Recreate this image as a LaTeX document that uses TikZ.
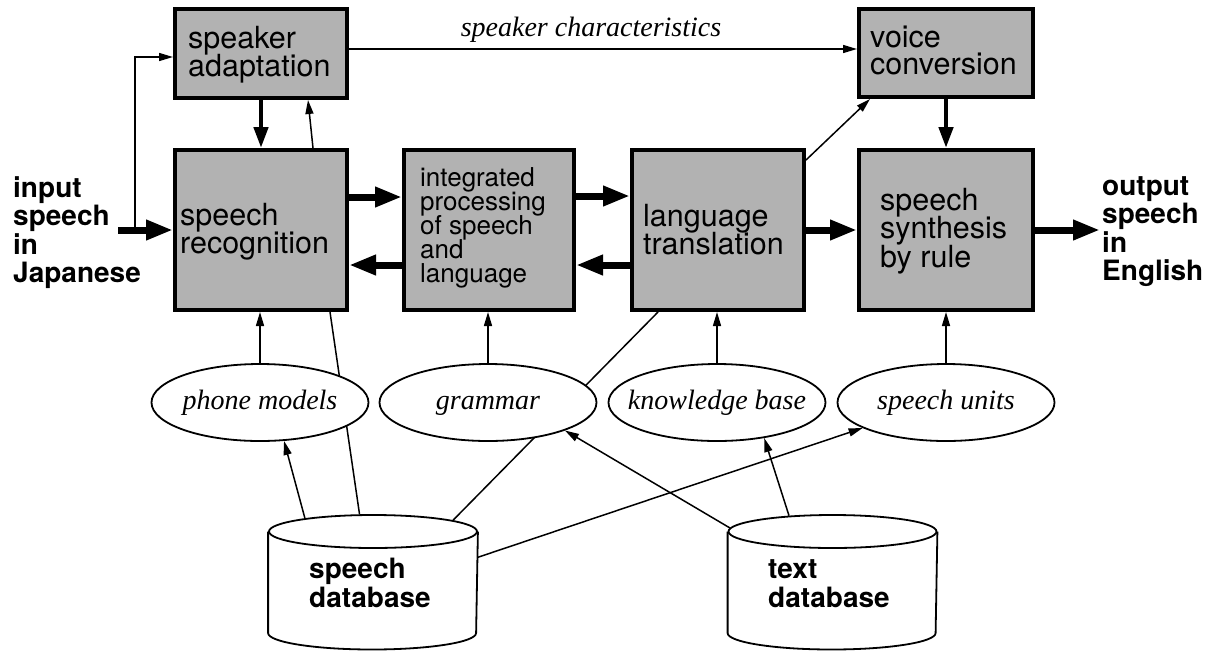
\documentclass[tikz,border=0pt]{standalone}
\usepackage{fontspec}
\setmainfont{TeX Gyre Heros}
\newfontfamily\tms{Liberation Serif}
\usetikzlibrary{arrows.meta,shapes.geometric,calc}
\newcommand{\lns}[1]{\vtop{\lineskiplimit=-100pt\lineskip=0pt\halign{##\hfil\cr#1\crcr}}}
\tikzset{
  box/.style={draw, line width=4pt, fill=black!30, inner sep=0pt},
  bt/.style={anchor=base west, inner sep=0pt, font=\fontsize{30.5}{28.5}\selectfont},
  lab/.style={anchor=base west, inner sep=0pt, font=\bfseries\fontsize{28}{28.5}\selectfont},
  oval/.style={ellipse, draw, line width=1.8pt, fill=white, minimum width=217pt, minimum height=77pt, inner sep=0pt},
  ovtext/.style={inner sep=0pt, font=\tms\itshape\fontsize{28}{30}\selectfont, text height=19pt, text depth=6pt},
  cyltop/.style={ellipse, draw, line width=1.8pt, minimum width=208pt, minimum height=33pt, inner sep=0pt},
  cylline/.style={line width=1.8pt},
  barrow/.style={-{Triangle[length=27pt,width=19pt]}, line width=7pt},
  marrow/.style={-{Triangle[length=21pt,width=14pt]}, line width=4.5pt},
  tarrow/.style={-{Triangle[length=14pt,width=8pt]}, line width=1.5pt},
  pline/.style={line width=1.5pt},
}
\begin{document}
\begin{tikzpicture}[x=1pt,y=-1pt]
\useasboundingbox (0,0) rectangle (1214,651);

% boxes
\node[box, minimum width=172pt, minimum height=89pt] (sa) at (261,53.5) {};
\node[box, minimum width=172pt, minimum height=160pt] (sr) at (261,230) {};
\node[box, minimum width=170pt, minimum height=160pt] (int) at (489,230) {};
\node[box, minimum width=172pt, minimum height=160pt] (lt) at (718,230) {};
\node[box, minimum width=174pt, minimum height=88pt] (vc) at (946,53) {};
\node[box, minimum width=174pt, minimum height=160pt] (syn) at (946,230) {};

% box texts
\node[bt] (sat) at (188,48) {\lns{speaker\cr adaptation}};
\node[bt] (srt) at (180,225) {\lns{speech\cr recognition}};
\node[bt, font=\fontsize{26}{24.2}\selectfont] (intt) at (420,186) {\lns{integrated\cr processing\cr of speech\cr and\cr language}};
\node[bt] (ltt) at (643,226) {\lns{language\cr translation}};
\node[bt, font=\fontsize{30.5}{27.5}\selectfont] (vct) at (870,47) {\lns{voice\cr conversion}};
\node[bt] (synt) at (880,210) {\lns{speech\cr synthesis\cr by rule}};

% side labels
\node[lab] (inl) at (13,197) {\lns{input\cr speech\cr in\cr Japanese}};
\node[lab] (outl) at (1102,195) {\lns{output\cr speech\cr in\cr English}};

% databases
\node[minimum width=208pt, minimum height=134pt, inner sep=0pt] (sdb) at (373,582.5) {};
\node[cyltop] (sdbtop) at (373,531.5) {};
\draw[cylline] (sdbtop.west) -- ++(0,101.5) arc[start angle=180, end angle=360, x radius=104pt, y radius=16.5pt] -- (sdbtop.east);
\node[lab, font=\bfseries\fontsize{28}{29}\selectfont] (sdbt) at (309,578) {\lns{speech\cr database}};

\node[minimum width=208pt, minimum height=134pt, inner sep=0pt] (tdb) at (832.5,582.5) {};
\node[cyltop] (tdbtop) at (832.5,531.5) {};
\draw[cylline] (tdbtop.west) -- ++(0,101.5) arc[start angle=180, end angle=360, x radius=104pt, y radius=16.5pt] -- (tdbtop.east);
\node[lab, font=\bfseries\fontsize{28}{29}\selectfont] (tdbt) at (768,578) {\lns{text\cr database}};

% lines passing behind the ovals
\draw[pline] ([xshift=69pt]sr.south) -- (sdbtop.128);
\draw[pline] ([xshift=-60pt]lt.south) -- (sdbtop.8);

% ovals
\node[oval] (pm) at (260,402.5) {};
\node[ovtext] (pmt) at (pm) {phone models};
\node[oval] (gr) at (488,402.5) {};
\node[ovtext] (grt) at (gr) {grammar};
\node[oval] (kb) at (717,402.5) {};
\node[ovtext] (kbt) at (kb) {knowledge base};
\node[oval] (su) at (946,402.5) {};
\node[ovtext] (sut) at (su) {speech units};

% top connectors
\coordinate (in) at (118,230);
\coordinate (br) at (135,230);
\coordinate (out) at (1100,230);
\draw[tarrow] (br) |- ([yshift=-3.5pt]sa.west);
\draw[barrow] (in) -- (sr.west);
\draw[marrow] (sa.south) -- (sr.north);
\draw[tarrow] ([xshift=52pt]sr.north) -- ([xshift=47pt]sa.south);
\draw[tarrow] ([yshift=4.5pt]sa.east) -- ([yshift=4pt]vc.west);
\node[anchor=base, inner sep=0pt, font=\tms\itshape\fontsize{28}{30}\selectfont] (sc) at (591,36) {speaker characteristics};
\draw[barrow] ([yshift=33pt]sr.east) -- ([yshift=33pt]int.west);
\draw[barrow] ([yshift=-35pt]int.west) -- ([yshift=-35pt]sr.east);
\draw[barrow] ([yshift=34pt]int.east) -- ([yshift=34pt]lt.west);
\draw[barrow] ([yshift=-35pt]lt.west) -- ([yshift=-35pt]int.east);
\draw[barrow] (lt.east) -- (syn.west);
\draw[tarrow] ([yshift=-12pt]lt.north east) -- ([xshift=-76pt]vc.south);
\draw[marrow] (vc.south) -- (syn.north);
\draw[barrow] (syn.east) -- (out);

% oval to box
\draw[tarrow] (pm.north) -- (pm.north |- sr.south);
\draw[tarrow] (gr.north) -- (gr.north |- int.south);
\draw[tarrow] (kb.north) -- (kb.north |- lt.south);
\draw[tarrow] (su.north) -- (su.north |- syn.south);

% database to ovals
\draw[tarrow] (sdbtop.169) -- (pm.302);
\draw[tarrow] ([yshift=25pt]sdb.east) -- (su.197);
\draw[tarrow] (tdbtop.178) -- (gr.340);
\draw[tarrow] (tdbtop.160) -- (kb.323);
\end{tikzpicture}
\end{document}
